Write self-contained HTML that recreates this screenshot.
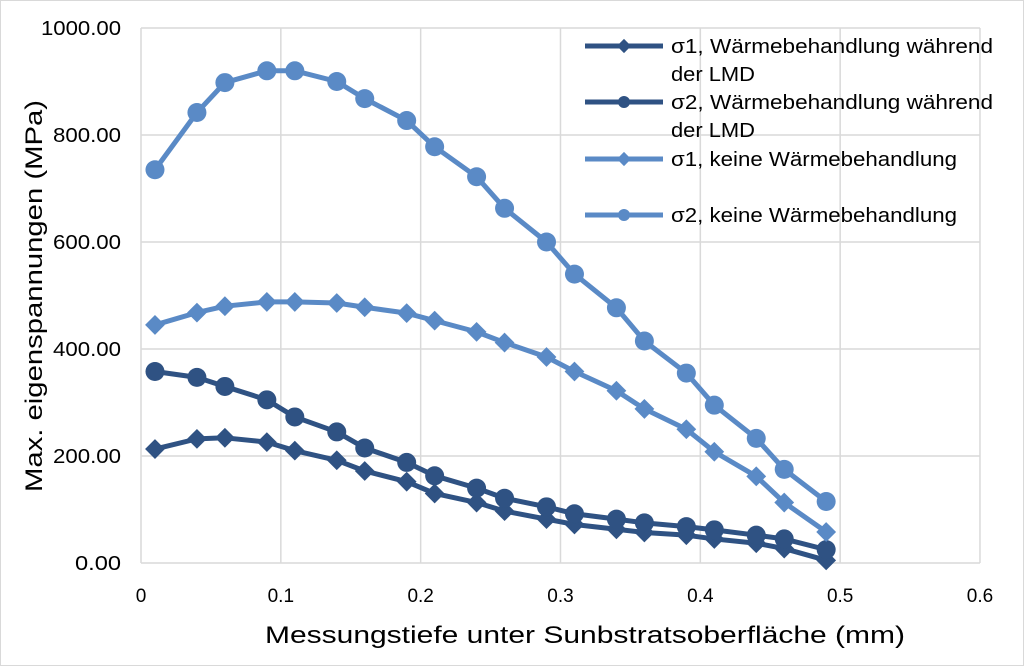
<!DOCTYPE html>
<html><head><meta charset="utf-8"><style>
html,body{margin:0;padding:0;background:#fff;}
svg{display:block;font-family:"Liberation Sans",sans-serif;}
</style></head><body>
<svg id="c" width="1024" height="666" xmlns="http://www.w3.org/2000/svg">
<rect x="0.5" y="0.5" width="1023" height="665" fill="#fff" stroke="#d9d9d9"/>
</svg>
<script>
const s=document.getElementById('c'),NS='http://www.w3.org/2000/svg';
function el(t,a,txt){const e=document.createElementNS(NS,t);for(const k in a)e.setAttribute(k,a[k]);if(txt!=null)e.textContent=txt;s.appendChild(e);return e;}
const X=v=>141+v*1398.3, Y=v=>563-v*0.535;
for(let i=0;i<=6;i++){el('line',{x1:X(i/10),x2:X(i/10),y1:Y(0),y2:Y(1000),stroke:'#d9d9d9','stroke-width':1.5});
 el('text',{x:X(i/10),y:602,'text-anchor':'middle','font-size':19,fill:'#000'},i==0?'0':(i/10).toString());}
for(let i=0;i<=5;i++){const v=i*200;el('line',{x1:X(0),x2:X(0.6),y1:Y(v),y2:Y(v),stroke:'#d9d9d9','stroke-width':1.5});
 el('text',{x:121,y:Y(v)+7,'text-anchor':'end','font-size':20,fill:'#000',textLength:(v.toFixed(2).length*11.4).toFixed(0),lengthAdjust:'spacingAndGlyphs'},v.toFixed(2));}
el('text',{x:265,y:643,'font-size':24,fill:'#000',textLength:640,lengthAdjust:'spacingAndGlyphs'},'Messungstiefe unter Sunbstratsoberfläche (mm)');
el('text',{x:0,y:0,'font-size':24,fill:'#000',textLength:392,lengthAdjust:'spacingAndGlyphs',transform:'translate(42,492) rotate(-90)'},'Max. eigenspannungen (MPa)');
const xs=[0.01,0.04,0.06,0.09,0.11,0.14,0.16,0.19,0.21,0.24,0.26,0.29,0.31,0.34,0.36,0.39,0.41,0.44,0.46,0.49];
const D='#2f5283',L='#5a8ac6';
const ser=[
 [[213,232,234,226,210,192,172,152,130,113,97,82,72,63,57,52,45,37,27,5],D,'d'],
 [[358,347,330,305,273,245,215,188,163,140,121,105,92,82,75,68,62,52,45,25],D,'c'],
 [[445,468,480,488,488,486,478,467,453,432,412,385,358,322,288,250,208,162,113,58],L,'d'],
 [[735,842,898,920,920,900,868,827,778,722,663,600,540,477,415,355,295,233,175,115],L,'c']];
function mk(x,y,c,t){if(t=='c')el('circle',{cx:x,cy:y,r:9.5,fill:c});else el('rect',{x:x-7,y:y-7,width:14,height:14,fill:c,transform:`rotate(45 ${x} ${y})`});}
ser.forEach(([d,c,t])=>{el('polyline',{points:d.map((v,i)=>X(xs[i])+','+Y(v)).join(' '),fill:'none',stroke:c,'stroke-width':5,'stroke-linejoin':'round'});
 d.forEach((v,i)=>mk(X(xs[i]),Y(v),c,t));});
const leg=[['σ1, Wärmebehandlung während','der LMD',D,'d',46,322],['σ2, Wärmebehandlung während','der LMD',D,'c',102,322],['σ1, keine Wärmebehandlung',null,L,'d',159,286],['σ2, keine Wärmebehandlung',null,L,'c',215,286]];
leg.forEach(([a,b,c,t,y,w])=>{el('line',{x1:585,x2:663,y1:y,y2:y,stroke:c,'stroke-width':5});
 if(t=='c')el('circle',{cx:624,cy:y,r:6,fill:c});else el('rect',{x:619,y:y-5,width:10,height:10,fill:c,transform:`rotate(45 624 ${y})`});
 el('text',{x:671,y:y+7,'font-size':20,fill:'#000',textLength:w,lengthAdjust:'spacingAndGlyphs'},a);
 if(b)el('text',{x:671,y:y+35,'font-size':20,fill:'#000',textLength:84,lengthAdjust:'spacingAndGlyphs'},b);});
</script>
</body></html>
